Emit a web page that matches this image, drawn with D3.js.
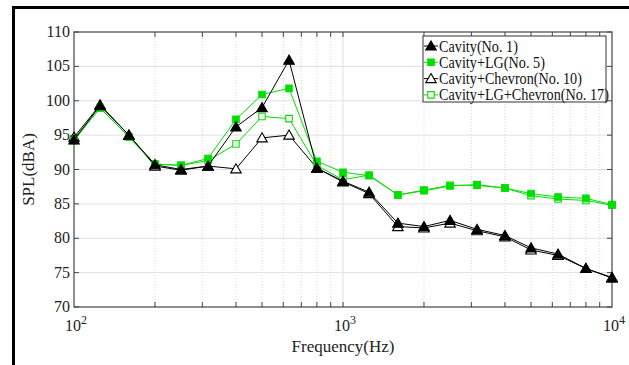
<!DOCTYPE html>
<html>
<head>
<meta charset="utf-8">
<script src="https://cdn.jsdelivr.net/npm/d3@7"></script>
<style>
	body { margin: 0; background: #fff; }
	text { font-family: "Times New Roman", Times, "Liberation Serif", Tinos, serif; }
</style>
</head>
<body>
<div id="chart"></div>
<script>
// third-octave band centres (Hz)
const frequencies = [100, 125, 160, 200, 250, 315, 400, 500, 630, 800, 1000,
	1250, 1600, 2000, 2500, 3150, 4000, 5000, 6300, 8000, 10000];

const cavity = [94.3, 99.3, 95.0, 90.7, 90.0, 90.5, 96.2, 99.0, 105.9, 90.2, 88.3,
	86.7, 82.2, 81.7, 82.6, 81.3, 80.4, 78.6, 77.7, 75.6, 74.3];
const cavityLG = [94.2, 99.0, 94.7, 90.8, 90.6, 91.6, 97.3, 100.9, 101.8, 91.2, 89.6,
	89.1, 86.3, 86.9, 87.6, 87.8, 87.3, 86.5, 86.0, 85.8, 84.9];
const cavityChevron = [94.7, 99.4, 95.0, 90.5, 89.9, 90.5, 90.1, 94.6, 95.0, 90.2, 88.2,
	86.5, 81.7, 81.5, 82.2, 81.1, 80.2, 78.3, 77.5, 75.6, 74.2];
const cavityLGChevron = [94.5, 98.9, 94.8, 90.8, 90.6, 91.3, 93.7, 97.7, 97.4, 90.6, 88.5,
	89.2, 86.3, 87.0, 87.7, 87.7, 87.3, 86.2, 85.7, 85.5, 84.8];

const seriesNames = ["Cavity(No. 1)", "Cavity+LG(No. 5)", "Cavity+Chevron(No. 10)", "Cavity+LG+Chevron(No. 17)"];
const yTicks = [70, 75, 80, 85, 90, 95, 100, 105, 110];
const xTickExps = [2, 3, 4];

(function (d3) {
	"use strict";
	const W = 629, H = 365;
	const green = "#00e000";
	const margin = { top: 32, right: 17, bottom: 58, left: 74 };
	const width = W - margin.left - margin.right;
	const height = H - margin.top - margin.bottom;

	const svg = d3.select("#chart").append("svg")
		.attr("width", W)
		.attr("height", H);

	// outer figure frame
	svg.append("rect")
		.attr("x", 13.5).attr("y", 7.5)
		.attr("width", 800).attr("height", 600)
		.attr("fill", "none").attr("stroke", "#000").attr("stroke-width", 3);

	const g = svg.append("g")
		.attr("transform", "translate(" + margin.left + "," + margin.top + ")");

	const x = d3.scaleLog().domain([100, 10000]).range([0, width]);
	const y = d3.scaleLinear().domain([70, 110]).range([height, 0]);

	// minor positions on the log axis
	const minor = [];
	[100, 1000].forEach(function (d) {
		for (let k = 2; k <= 9; k++) minor.push(d * k);
	});

	// grid
	g.append("g").selectAll("line").data(minor).enter().append("line")
		.attr("x1", d => x(d)).attr("x2", d => x(d))
		.attr("y1", 0).attr("y2", height)
		.attr("stroke", "#c8c8c8").attr("stroke-width", 0.7)
		.attr("stroke-dasharray", "1,2");
	g.append("g").selectAll("line").data([1000]).enter().append("line")
		.attr("x1", d => x(d)).attr("x2", d => x(d))
		.attr("y1", 0).attr("y2", height)
		.attr("stroke", "#e0e0e0").attr("stroke-width", 1);
	g.append("g").selectAll("line").data(yTicks.slice(1, -1)).enter().append("line")
		.attr("x1", 0).attr("x2", width)
		.attr("y1", d => y(d)).attr("y2", d => y(d))
		.attr("stroke", "#e0e0e0").attr("stroke-width", 1);

	// inward ticks on all four sides
	const axisColor = "#444";
	const ticks = g.append("g").attr("stroke", axisColor).attr("stroke-width", 1);
	const xAll = minor.concat([1000]);
	xAll.forEach(function (d) {
		const len = 5;
		ticks.append("line").attr("x1", x(d)).attr("x2", x(d)).attr("y1", height).attr("y2", height - len);
		ticks.append("line").attr("x1", x(d)).attr("x2", x(d)).attr("y1", 0).attr("y2", len);
	});
	yTicks.forEach(function (d) {
		ticks.append("line").attr("x1", 0).attr("x2", 5).attr("y1", y(d)).attr("y2", y(d));
		ticks.append("line").attr("x1", width).attr("x2", width - 5).attr("y1", y(d)).attr("y2", y(d));
	});

	// plot box
	g.append("rect")
		.attr("width", width).attr("height", height)
		.attr("fill", "none").attr("stroke", axisColor).attr("stroke-width", 1.2);

	// y tick labels
	g.append("g").selectAll("text").data(yTicks).enter().append("text")
		.attr("x", -4).attr("y", d => y(d) + 5)
		.attr("text-anchor", "end")
		.attr("font-size", 16).attr("fill", "#222")
		.text(d => d);

	// x tick labels 10^n
	const xl = g.append("g").selectAll("text").data(xTickExps).enter().append("text")
		.attr("x", d => x(Math.pow(10, d)) + 2).attr("y", height + 24)
		.attr("text-anchor", "middle")
		.attr("font-size", 16).attr("fill", "#222");
	xl.append("tspan").text("10");
	xl.append("tspan").attr("dy", -7).attr("font-size", 12).text(d => d);

	// axis titles
	g.append("text")
		.attr("x", x(1000)).attr("y", height + 45)
		.attr("text-anchor", "middle").attr("font-size", 17).attr("fill", "#222")
		.text("Frequency(Hz)");
	g.append("text")
		.attr("transform", "translate(-40," + (height / 2) + ") rotate(-90)")
		.attr("text-anchor", "middle").attr("font-size", 17).attr("fill", "#222")
		.text("SPL(dBA)");

	// series
	const series = [
		{ values: cavityLGChevron, color: green, marker: "square", fill: "#fff" },
		{ values: cavityChevron, color: "#000", marker: "triangle", fill: "#fff" },
		{ values: cavityLG, color: green, marker: "square", fill: green },
		{ values: cavity, color: "#000", marker: "triangle", fill: "#000" }
	];
	const order = [3, 2, 1, 0]; // legend order -> index in series

	const line = d3.line()
		.x(d => x(d[0]))
		.y(d => y(d[1]));

	const triSym = d3.symbol().type(d3.symbolTriangle).size(48);
	const sqSym = d3.symbol().type(d3.symbolSquare).size(42);

	function marker(sel, s) {
		sel.attr("d", s.marker === "triangle" ? triSym() : sqSym())
			.attr("fill", s.fill)
			.attr("stroke", s.color)
			.attr("stroke-width", 1.1);
	}

	series.forEach(function (s) {
		const pts = frequencies.map((f, i) => [f, s.values[i]]);
		g.append("path")
			.datum(pts)
			.attr("d", line)
			.attr("fill", "none")
			.attr("stroke", s.color)
			.attr("stroke-width", 1);
		g.append("g").selectAll("path").data(pts).enter().append("path")
			.attr("transform", d => "translate(" + x(d[0]) + "," + (y(d[1]) + (s.marker === "triangle" ? 1 : 0)) + ")")
			.call(marker, s);
	});

	// legend
	const lg = svg.append("g").attr("transform", "translate(423,36)");
	lg.append("rect")
		.attr("width", 183).attr("height", 66)
		.attr("fill", "#fff").attr("stroke", "#333").attr("stroke-width", 1);
	order.forEach(function (si, k) {
		const s = series[si];
		const ly = 10 + k * 16.3;
		lg.append("line")
			.attr("x1", 1).attr("x2", 15).attr("y1", ly).attr("y2", ly)
			.attr("stroke", s.color).attr("stroke-width", 1);
		lg.append("path")
			.attr("transform", "translate(8," + (ly + (s.marker === "triangle" ? 1 : 0)) + ")")
			.call(marker, s);
		// slightly condensed so the text fits the box like the Times original
		lg.append("text")
			.attr("transform", "translate(16," + (ly + 5.5) + ") scale(0.9,1)")
			.attr("font-size", 15.8).attr("fill", "#111")
			.text(seriesNames[k]);
	});
})(d3);
</script>
</body>
</html>
